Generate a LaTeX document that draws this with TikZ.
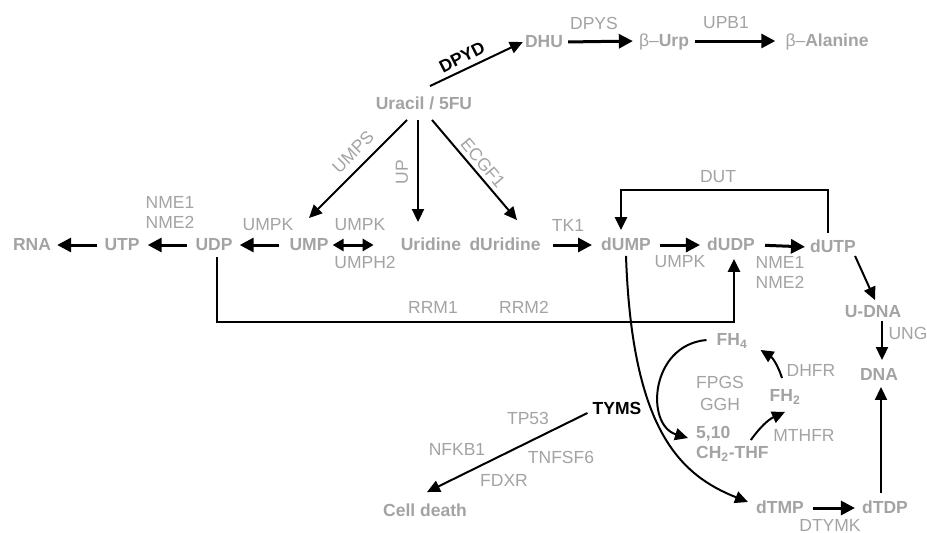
\documentclass[tikz,border=0pt]{standalone}
\usepackage{fontspec}
\setmainfont{Liberation Sans}
\usepackage{tikz}
\usetikzlibrary{arrows.meta}
\definecolor{GrisTexto}{RGB}{163,163,163}
\newcommand{\tamano}{\fontsize{17.5}{20}\selectfont}

\begin{document}
\begin{tikzpicture}[x=1pt,y=-1pt,
  met/.style={text=GrisTexto,font=\tamano\bfseries,inner sep=2pt,text height=12.5pt,text depth=1pt},
  metdos/.style={text=GrisTexto,font=\tamano\bfseries,inner sep=2pt,align=left},
  enz/.style={text=GrisTexto,font=\tamano,inner sep=1pt},
  gen/.style={font=\tamano\bfseries,inner sep=1pt},
  flecha/.style={-{Triangle[length=14pt,width=14pt]},line width=3pt},
  fina/.style={-{Triangle[length=13pt,width=12pt]},line width=2pt},
  doble/.style={{Triangle[length=11pt,width=12pt]}-{Triangle[length=11pt,width=12pt]},line width=3pt}]
  \useasboundingbox (0,0) rectangle (927,533);
  % metabolitos
  \node[met] (ura) at (424,104) {Uracil / 5FU};
  \node[met] (dhu) at (544,42) {DHU};
  \node[met] (burp) at (664,41) {{\mdseries β–}Urp};
  \node[met] (bala) at (827,41) {{\mdseries β–}Alanine};
  \node[met] (rna) at (32,245) {RNA};
  \node[met] (utp) at (122,245) {UTP};
  \node[met] (udp) at (214,245) {UDP};
  \node[met] (ump) at (309,245) {UMP};
  \node[met] (urd) at (431,245) {Uridine};
  \node[met] (durd) at (505,245) {dUridine};
  \node[met] (dump) at (626,245) {dUMP};
  \node[met] (dudp) at (731,245) {dUDP};
  \node[met] (dutp) at (833,247) {dUTP};
  \node[met] (udna) at (873,312) {U-DNA};
  \node[met] (dna) at (879,375) {DNA};
  \node[met] (dtmp) at (780,508) {dTMP};
  \node[met] (dtdp) at (885,508) {dTDP};
  \node[met] (fh4) at (732,340) {FH\textsubscript{4}};
  \node[met] (fh2) at (785,396) {FH\textsubscript{2}};
  \node[metdos,anchor=west] (mthf) at (694,444) {5,10\\CH\textsubscript{2}-THF};
  \node[met] (death) at (425,511) {Cell death};
  % enzimas
  \node[gen,rotate=27] (dpyd) at (462,57) {DPYD};
  \node[gen] (tyms) at (617,408) {TYMS};
  \node[enz] (dpys) at (594,23) {DPYS};
  \node[enz] (upb1) at (726,23) {UPB1};
  \node[enz,rotate=45] (umps) at (353,152) {UMPS};
  \node[enz,rotate=90] (up) at (402,172) {UP};
  \node[enz,rotate=-50] (ecgf) at (483,163) {ECGF1};
  \node[enz,align=center] (nmeA) at (170,212) {NME1\\NME2};
  \node[enz] (umpkA) at (268,225) {UMPK};
  \node[enz] (umpkB) at (360,225) {UMPK};
  \node[enz] (umph) at (365,262) {UMPH2};
  \node[enz] (tk1) at (568,225) {TK1};
  \node[enz] (umpkC) at (680,262) {UMPK};
  \node[enz,align=center] (nmeB) at (780,272) {NME1\\NME2};
  \node[enz] (dut) at (718,177) {DUT};
  \node[enz] (rrm1) at (433,307) {RRM1};
  \node[enz] (rrm2) at (524,307) {RRM2};
  \node[enz] (ung) at (908,333) {UNG};
  \node[enz] (dhfr) at (811,370) {DHFR};
  \node[enz,align=center] (fpgs) at (720,393) {FPGS\\[2pt]GGH};
  \node[enz] (mthfr) at (804,435) {MTHFR};
  \node[enz] (dtymk) at (830,525) {DTYMK};
  \node[enz] (tp53) at (528,418) {TP53};
  \node[enz] (nfkb) at (457,449) {NFKB1};
  \node[enz] (tnf) at (561,457) {TNFSF6};
  \node[enz] (fdxr) at (504,480) {FDXR};
  % degradacion
  \draw[fina] ([shift={(6pt,9pt)}]ura.north) -- (dhu.west);
  \draw[flecha,shorten <=3pt,shorten >=4pt] (dhu.east) -- (burp.west);
  \draw[flecha,shorten <=4pt,shorten >=8pt] (burp.east) -- (bala.west);
  % desde uracilo
  \draw[fina] ([shift={(-17pt,-7pt)}]ura.south) -- ([yshift=18pt]ump.north);
  \draw[fina] ([shift={(-6pt,-7pt)}]ura.south) -- ([shift={(-13pt,14pt)}]urd.north);
  \draw[fina] ([shift={(8pt,-7pt)}]ura.south) -- ([shift={(12pt,16pt)}]durd.north);
  % fila central
  \draw[doble,shorten <=2pt] (ump.east) -- ([xshift=-25pt]urd.west);
  \draw[flecha,shorten <=8pt,shorten >=5pt] (ump.west) -- (udp.east);
  \draw[flecha,shorten <=6pt,shorten >=6pt] (udp.west) -- (utp.east);
  \draw[flecha,shorten <=5pt,shorten >=4pt] (utp.west) -- (rna.east);
  \draw[flecha,shorten <=10pt,shorten >=7pt] (durd.east) -- (dump.west);
  \draw[flecha,shorten <=7pt,shorten >=5pt] (dump.east) -- (dudp.west);
  \draw[flecha,shorten <=8pt,shorten >=3pt] (dudp.east) -- (dutp.west);
  \draw[fina,line width=2.5pt] ([shift={(-5pt,5pt)}]dutp.north) -- ++(0,-43) -| ([shift={(-5pt,6pt)}]dump.north);
  \draw[fina,line width=2.5pt] ([shift={(3pt,-3pt)}]udp.south) -- ++(0,65) -| ([shift={(3pt,-5pt)}]dudp.south);
  % ADN
  \draw[fina] ([xshift=-3pt]dutp.south east) -- ([shift={(2pt,3pt)}]udna.north);
  \draw[fina] ([xshift=9pt]udna.south) -- ([shift={(3pt,6pt)}]dna.north);
  \draw[fina] ([shift={(-4pt,6pt)}]dtdp.north) -- ([shift={(2pt,-3pt)}]dna.south);
  \draw[flecha,shorten <=7pt,shorten >=5pt] (dtmp.east) -- (dtdp.west);
  % ciclo del folato
  \draw[fina] ([yshift=-2pt]dump.south) .. controls (632,430) and (680,475) .. ([shift={(-6pt,6pt)}]dtmp.west);
  \draw[fina] ([xshift=-8pt]fh4.west) .. controls (650,345) and (645,425) .. ([shift={(-6pt,6pt)}]mthf.west);
  \draw[fina] ([shift={(-20pt,4pt)}]mthf.east) to[bend left=15] ([yshift=-7pt]fh2.south);
  \draw[fina] ([shift={(-3pt,9pt)}]fh2.north) to[bend right=20] ([shift={(11pt,-1pt)}]fh4.south east);
  \draw[fina] ([shift={(-4pt,-5pt)}]tyms.west) -- ([shift={(2pt,10pt)}]death.north);
\end{tikzpicture}
\end{document}
